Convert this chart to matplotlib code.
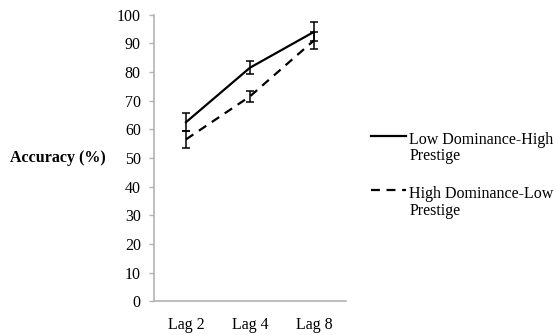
import matplotlib
matplotlib.use("Agg")
import matplotlib.pyplot as plt
from matplotlib.lines import Line2D

# data
lags = ["Lag 2", "Lag 4", "Lag 8"]
low_dom_high_pres = [62.5, 81.5, 94.0]
low_dom_high_pres_err = [3.1, 2.2, 3.3]
high_dom_low_pres = [56.5, 71.5, 91.0]
high_dom_low_pres_err = [3.0, 2.0, 2.9]
series_labels = ["Low Dominance-High\nPrestige", "High Dominance-Low\nPrestige"]
y_ticks = list(range(0, 101, 10))


def main():
    plt.rcParams['font.family'] = ['Liberation Serif', 'DejaVu Serif']
    plt.rcParams['font.size'] = 11.5

    fig = plt.figure(figsize=(5.56, 3.35), dpi=100)
    ax = fig.add_axes([0.277, 0.1003, 0.345, 0.8558])

    x = list(range(len(lags)))
    ax.errorbar(x, low_dom_high_pres, yerr=low_dom_high_pres_err, color='black',
                linewidth=1.6, elinewidth=1.1, capsize=3.2, capthick=1.1)
    ax.errorbar(x, high_dom_low_pres, yerr=high_dom_low_pres_err, color='black',
                linewidth=1.6, linestyle=(0, (4, 3)), elinewidth=1.1,
                capsize=3.2, capthick=1.1)

    ax.set_xlim(-0.5, len(lags) - 0.5)
    ax.set_ylim(0, 100)
    ax.set_xticks(x)
    ax.set_xticklabels(lags)
    ax.set_yticks(y_ticks)

    for side in ['top', 'right']:
        ax.spines[side].set_visible(False)
    for side in ['left', 'bottom']:
        ax.spines[side].set_color('#b3b3b3')
        ax.spines[side].set_linewidth(1.2)
    ax.tick_params(axis='y', length=3.5, width=1.0, color='#b3b3b3', pad=6)
    ax.tick_params(axis='x', length=0, pad=11)

    ax.text(-0.25, 0.5, "Accuracy (%)", transform=ax.transAxes, ha='right',
            va='center', fontweight='bold')

    # legend, handle lined up with the first line of text as in the source
    styles = ['-', (0, (4, 3))]
    for i, (label, ls) in enumerate(zip(series_labels, styles)):
        y0 = 0.594 - i * 0.162
        fig.add_artist(Line2D([0.667, 0.731], [y0, y0], color='black',
                              linewidth=1.6, linestyle=ls,
                              transform=fig.transFigure))
        fig.text(0.736, y0 + 0.012, label, ha='left', va='top',
                 linespacing=1.02)

    fig.savefig("out.png", dpi=100)


if __name__ == '__main__':
    main()
